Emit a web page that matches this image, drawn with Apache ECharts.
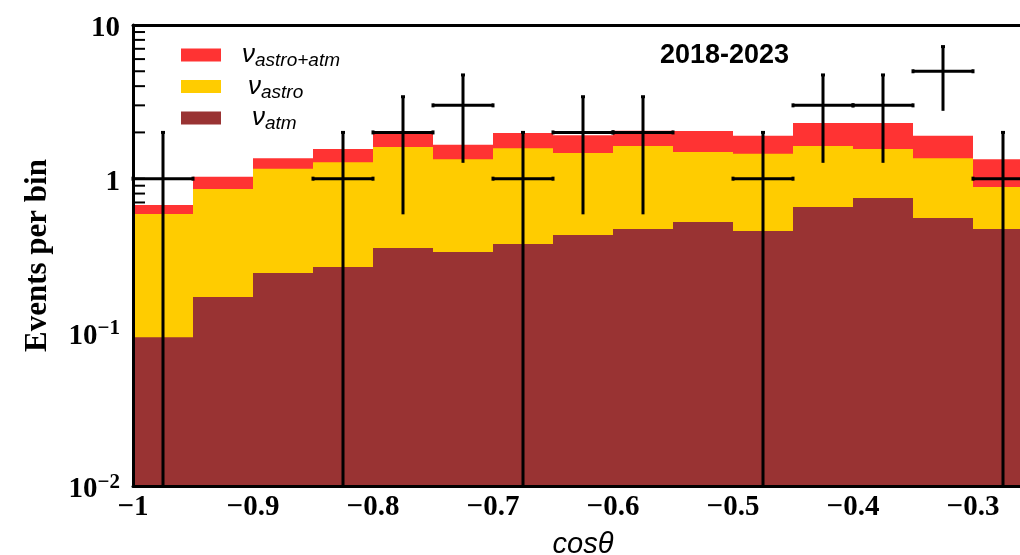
<!DOCTYPE html>
<html>
<head>
<meta charset="utf-8">
<script src="https://cdn.jsdelivr.net/npm/echarts@6/dist/echarts.min.js"></script>
<style>
  html, body { margin: 0; padding: 0; background: #fff; }
  #chart { width: 1020px; height: 555px; }
</style>
</head>
<body>
<div id="chart"></div>
<script>
// cos(theta) bin edges (width 0.05)
const binEdges = [-1.00, -0.95, -0.90, -0.85, -0.80, -0.75, -0.70, -0.65,
                  -0.60, -0.55, -0.50, -0.45, -0.40, -0.35, -0.30, -0.25];

// expected events per bin
const nuAstroAtm = [0.674, 1.03, 1.36, 1.56, 1.98, 1.66, 1.98, 1.92, 2.05, 2.04, 1.90, 2.30, 2.30, 1.90, 1.34];
const nuAstro    = [0.589, 0.857, 1.16, 1.28, 1.61, 1.34, 1.58, 1.47, 1.63, 1.49, 1.45, 1.63, 1.56, 1.36, 0.883];
const nuAtm      = [0.093, 0.170, 0.243, 0.266, 0.354, 0.333, 0.376, 0.430, 0.471, 0.523, 0.457, 0.654, 0.749, 0.555, 0.471];

// observed events per bin (null = empty bin) and their errors
const observed = [1, null, null, 1, 2, 3, 1, 2, 2, null, 1, 3, 3, 5, 1];
const obsErr   = [1, null, null, 1, 1.414, 1.732, 1, 1.414, 1.414, null, 1, 1.732, 1.732, 2.236, 1];

// y axis tick values (log scale, 2..9 per decade)
const yTicks = [0.01, 0.02, 0.03, 0.04, 0.05, 0.06, 0.07, 0.08, 0.09,
                0.1, 0.2, 0.3, 0.4, 0.5, 0.6, 0.7, 0.8, 0.9,
                1, 2, 3, 4, 5, 6, 7, 8, 9, 10];

const X_MIN = -1, X_MAX = -0.25, Y_MIN = 0.01, Y_MAX = 10;
const SERIF = '"Liberation Serif", "Times New Roman", serif';
const SANS = '"Liberation Sans", Arial, Helvetica, sans-serif';

const C_TOTAL = '#ff3333', C_ASTRO = '#ffcc00', C_ATM = '#993333';

function histData(vals) {
  return vals.map((v, i) => [binEdges[i], binEdges[i + 1], v]);
}

function renderHist(params, api) {
  const p1 = api.coord([api.value(0), api.value(2)]);
  const p2 = api.coord([api.value(1), Y_MIN]);
  return {
    type: 'rect',
    shape: { x: p1[0], y: p1[1], width: p2[0] - p1[0], height: p2[1] - p1[1] },
    style: { fill: api.visual('color') }
  };
}

const obsData = [];
observed.forEach((n, i) => {
  if (n !== null) obsData.push([binEdges[i], binEdges[i + 1], n, obsErr[i]]);
});

function renderObs(params, api) {
  const lo = api.value(0), hi = api.value(1), n = api.value(2), e = api.value(3);
  const xc = (lo + hi) / 2;
  const pL = api.coord([lo, n]);
  const pR = api.coord([hi, n]);
  const pTop = api.coord([xc, n + e]);
  const pBot = api.coord([xc, Math.max(n - e, Y_MIN)]);
  const st = { stroke: '#000', lineWidth: 3 };
  const cap = 2;
  return {
    type: 'group',
    children: [
      { type: 'line', shape: { x1: pL[0], y1: pL[1], x2: pR[0], y2: pR[1] }, style: st },
      { type: 'line', shape: { x1: pTop[0], y1: pTop[1], x2: pBot[0], y2: pBot[1] }, style: st },
      { type: 'line', shape: { x1: pL[0], y1: pL[1] - cap, x2: pL[0], y2: pL[1] + cap }, style: st },
      { type: 'line', shape: { x1: pR[0], y1: pR[1] - cap, x2: pR[0], y2: pR[1] + cap }, style: st },
      { type: 'line', shape: { x1: pTop[0] - cap, y1: pTop[1], x2: pTop[0] + cap, y2: pTop[1] }, style: st }
    ]
  };
}

function renderTick(params, api) {
  const p = api.coord([X_MIN, api.value(1)]);
  return {
    type: 'line',
    shape: { x1: p[0], y1: p[1], x2: p[0] + 12, y2: p[1] },
    style: { stroke: '#000', lineWidth: 2 }
  };
}

const legendRich = {
  v1: { fontFamily: SANS, fontStyle: 'italic', fontSize: 26, color: '#000', padding: [0, 0, 0, 16] },
  v2: { fontFamily: SANS, fontStyle: 'italic', fontSize: 26, color: '#000', padding: [0, 0, 0, 22] },
  v3: { fontFamily: SANS, fontStyle: 'italic', fontSize: 26, color: '#000', padding: [0, 0, 0, 26] },
  s:  { fontFamily: SANS, fontStyle: 'italic', fontSize: 19, color: '#000', padding: [12, 0, 0, 0] }
};

const chart = echarts.init(document.getElementById('chart'), null, { renderer: 'canvas' });

chart.setOption({
  animation: false,
  backgroundColor: '#fff',
  title: {
    text: '2018-2023',
    left: 660, top: 42, padding: 0,
    textStyle: { fontFamily: SANS, fontWeight: 'bold', fontSize: 27, color: '#000' }
  },
  legend: {
    orient: 'vertical',
    left: 176, top: 37,
    itemWidth: 40, itemHeight: 13, itemGap: 3,
    icon: 'rect',
    selectedMode: false,
    data: [
      { name: 'astroatm', itemStyle: { color: C_TOTAL } },
      { name: 'astro', itemStyle: { color: C_ASTRO } },
      { name: 'atm', itemStyle: { color: C_ATM } }
    ],
    formatter: function (name) {
      if (name === 'astroatm') return '{v1|ν}{s|astro+atm}';
      if (name === 'astro') return '{v2|ν}{s|astro}';
      return '{v3|ν}{s|atm}';
    },
    textStyle: { rich: legendRich }
  },
  grid: {
    left: 133, top: 25, width: 900, height: 461,
    containLabel: false, outerBoundsMode: 'none'
  },
  xAxis: [{
    type: 'value', min: X_MIN, max: X_MAX, interval: 0.1,
    z: 10,
    axisLine: { show: true, onZero: false, lineStyle: { color: '#000', width: 3 } },
    axisTick: { show: false },
    splitLine: { show: false },
    axisLabel: {
      margin: 7, showMaxLabel: false,
      fontFamily: SERIF, fontWeight: 'bold', fontSize: 29, color: '#000',
      formatter: function (v) {
        const r = Math.round(v * 10) / 10;
        if (r === -1) return '\u22121';
        return '\u2212' + Math.abs(r).toFixed(1);
      }
    },
    name: 'cosθ', nameLocation: 'middle', nameGap: 44,
    nameTextStyle: { fontFamily: SANS, fontStyle: 'italic', fontSize: 29, color: '#000' }
  }, {
    type: 'value', position: 'top', min: X_MIN, max: X_MAX,
    z: 10,
    axisLine: { show: true, onZero: false, lineStyle: { color: '#000', width: 3 } },
    axisTick: { show: false }, axisLabel: { show: false }, splitLine: { show: false }
  }],
  yAxis: {
    type: 'log', logBase: 10, min: Y_MIN, max: Y_MAX,
    z: 10,
    axisLine: { show: true, onZero: false, lineStyle: { color: '#000', width: 3 } },
    axisTick: { show: false },
    minorTick: { show: false },
    splitLine: { show: false },
    axisLabel: {
      margin: 13,
      padding: [8, 0, 0, 0],
      formatter: function (v) {
        const p = Math.round(Math.log10(v));
        if (p === 1) return '{b|10}';
        if (p === 0) return '{b|1}';
        return '{b|10}{e|\u2212' + (-p) + '}';
      },
      rich: {
        b: { fontFamily: SERIF, fontWeight: 'bold', fontSize: 29, color: '#000' },
        e: { fontFamily: SERIF, fontWeight: 'bold', fontSize: 21, color: '#000', padding: [0, 0, 15, 0] }
      }
    },
    name: 'Events per bin', nameLocation: 'middle', nameRotate: 90, nameGap: 80,
    nameTextStyle: { fontFamily: SERIF, fontWeight: 'bold', fontSize: 31, color: '#000' }
  },
  series: [
    {
      type: 'custom', name: 'ticks', z: 1, silent: true,
      data: yTicks.map(v => [X_MIN, v]), encode: { x: 0, y: 1 },
      renderItem: renderTick
    },
    {
      type: 'custom', name: 'astroatm', z: 2, silent: true,
      itemStyle: { color: C_TOTAL },
      data: histData(nuAstroAtm), encode: { x: [0, 1], y: 2 },
      renderItem: renderHist
    },
    {
      type: 'custom', name: 'astro', z: 3, silent: true,
      itemStyle: { color: C_ASTRO },
      data: histData(nuAstro), encode: { x: [0, 1], y: 2 },
      renderItem: renderHist
    },
    {
      type: 'custom', name: 'atm', z: 4, silent: true,
      itemStyle: { color: C_ATM },
      data: histData(nuAtm), encode: { x: [0, 1], y: 2 },
      renderItem: renderHist
    },
    {
      type: 'custom', name: 'data', z: 5, silent: true,
      data: obsData, encode: { x: [0, 1], y: 2 },
      renderItem: renderObs
    }
  ]
});
</script>
</body>
</html>
